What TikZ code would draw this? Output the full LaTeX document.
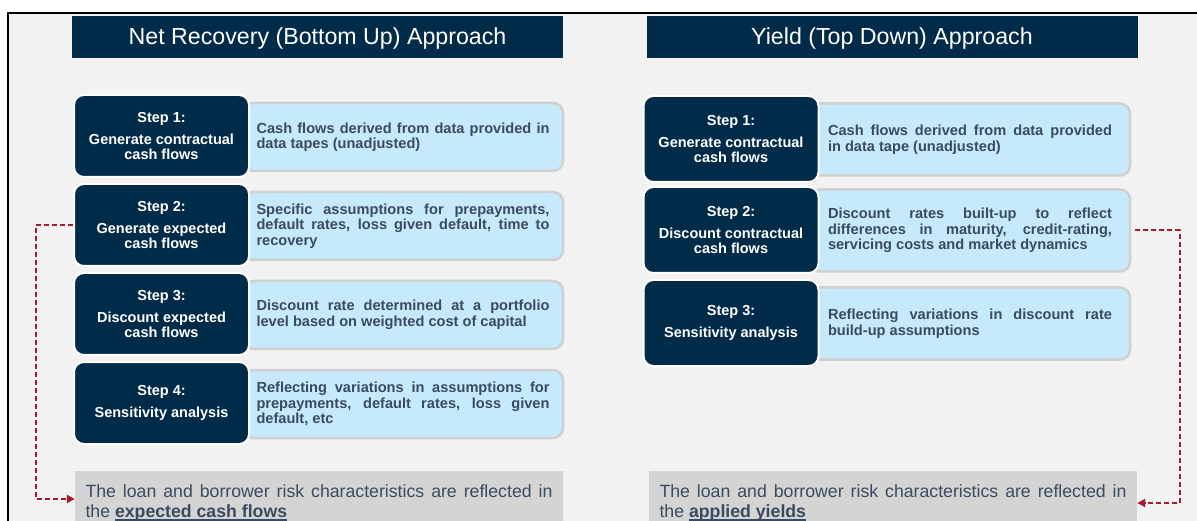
\documentclass[tikz,border=0pt]{standalone}
\usepackage{fontspec}
\setmainfont{Liberation Sans}
\usetikzlibrary{arrows.meta}
\definecolor{navy}{RGB}{0,43,73}
\definecolor{sky}{RGB}{198,233,252}
\definecolor{skyline}{RGB}{208,208,208}
\definecolor{panel}{RGB}{242,242,242}
\definecolor{notegray}{RGB}{212,212,212}
\definecolor{slate}{RGB}{58,75,96}
\definecolor{linkred}{RGB}{166,25,46}
\newcommand\keyterm[1]{\setbox0\hbox{\bfseries #1}\rlap{\rule[-3.2pt]{\wd0}{1.3pt}}\box0}
\begin{document}
\begin{tikzpicture}[x=1pt, y=-1pt, line join=round,
  head/.style={fill=navy, text=white, inner sep=0pt, minimum width=491pt, minimum height=42pt,
    text height=20pt, text depth=5pt, font=\fontsize{23.2}{27}\selectfont},
  stepbox/.style={fill=navy, draw=white, line width=2pt, rounded corners=10pt, text=white,
    align=center, inner sep=0pt, minimum width=175pt, minimum height=82pt,
    font=\bfseries\fontsize{14.5}{15}\selectfont},
  descbox/.style={fill=sky, draw=skyline, line width=2.5pt, rounded corners=10pt, text=slate,
    align=justify, inner xsep=0pt, minimum width=320pt, minimum height=68pt,
    font=\bfseries\fontsize{14.6}{15.5}\selectfont},
  notebox/.style={fill=notegray, text=slate, align=justify, text width=467pt, inner xsep=10.5pt,
    inner ysep=13pt, anchor=north, font=\fontsize{17.7}{20.5}\selectfont},
  link/.style={draw=linkred, line width=2pt, dash pattern=on 5pt off 3pt,
    -{Triangle[length=8pt, width=8pt]}}]
\path[use as bounding box, clip] (0,0) rectangle (1197,521);
\fill[white] (0,0) rectangle (1197,521);
\fill[panel] (8,13) rectangle (1197,521);
\draw[line width=2pt] (1197,13) -- (8,13) -- (8,521);

\node[head] (headL) at (317.5,37.5) {Net Recovery (Bottom Up) Approach};
\node[head] (headR) at (892,37.5) {Yield (Top Down) Approach};

\node[descbox, text width=293pt] (descL1) at (403,137) {Cash flows derived from data provided in\linebreak data tapes (unadjusted)};
\node[descbox, text width=293pt] (descL2) at (403,226) {Specific assumptions for prepayments,\linebreak default rates, loss given default, time to\linebreak recovery};
\node[descbox, text width=293pt] (descL3) at (403,315) {Discount rate determined at a portfolio\linebreak level based on weighted cost of capital};
\node[descbox, text width=293pt] (descL4) at (403,404) {Reflecting variations in assumptions for\linebreak prepayments, default rates, loss given\linebreak default, etc};
\node[stepbox] (stepL1) at (161.5,136) {Step 1:\\[7pt]Generate contractual\\cash flows};
\node[stepbox] (stepL2) at (161.5,225) {Step 2:\\[7pt]Generate expected\\cash flows};
\node[stepbox] (stepL3) at (161.5,314) {Step 3:\\[7pt]Discount expected\\cash flows};
\node[stepbox] (stepL4) at (161.5,403) {Step 4:\\[7pt]Sensitivity analysis};

\node[descbox, text width=284pt, minimum height=72pt] (descR1) at (970,139.5) {Cash flows derived from data provided\linebreak in data tape (unadjusted)};
\node[descbox, text width=284pt, minimum height=82pt] (descR2) at (970,230.5) {Discount rates built-up to reflect\linebreak differences in maturity, credit-rating,\linebreak servicing costs and market dynamics};
\node[descbox, text width=284pt, minimum height=72pt] (descR3) at (970,323.5) {Reflecting variations in discount rate\linebreak build-up assumptions};
\node[stepbox, minimum height=86pt] (stepR1) at (731,139) {Step 1:\\[7pt]Generate contractual\\cash flows};
\node[stepbox, minimum height=86pt] (stepR2) at (731,230) {Step 2:\\[7pt]Discount contractual\\cash flows};
\node[stepbox, minimum height=86pt] (stepR3) at (731,323) {Step 3:\\[7pt]Sensitivity analysis};

\node[notebox] (noteL) at (319,471) {The loan and borrower risk characteristics are reflected in\linebreak the \keyterm{expected cash flows}};
\node[notebox] (noteR) at (893,471) {The loan and borrower risk characteristics are reflected in\linebreak the \keyterm{applied yields}};

\coordinate (bendL) at (36,499);
\coordinate (bendR) at (1180,503);
\draw[link] (stepL2.west) -| (bendL) -- ([yshift=-28pt]noteL.north west);
\draw[link] ([xshift=4pt]descR2.east) -| (bendR) -- ([yshift=-32pt]noteR.north east);
\end{tikzpicture}
\end{document}
